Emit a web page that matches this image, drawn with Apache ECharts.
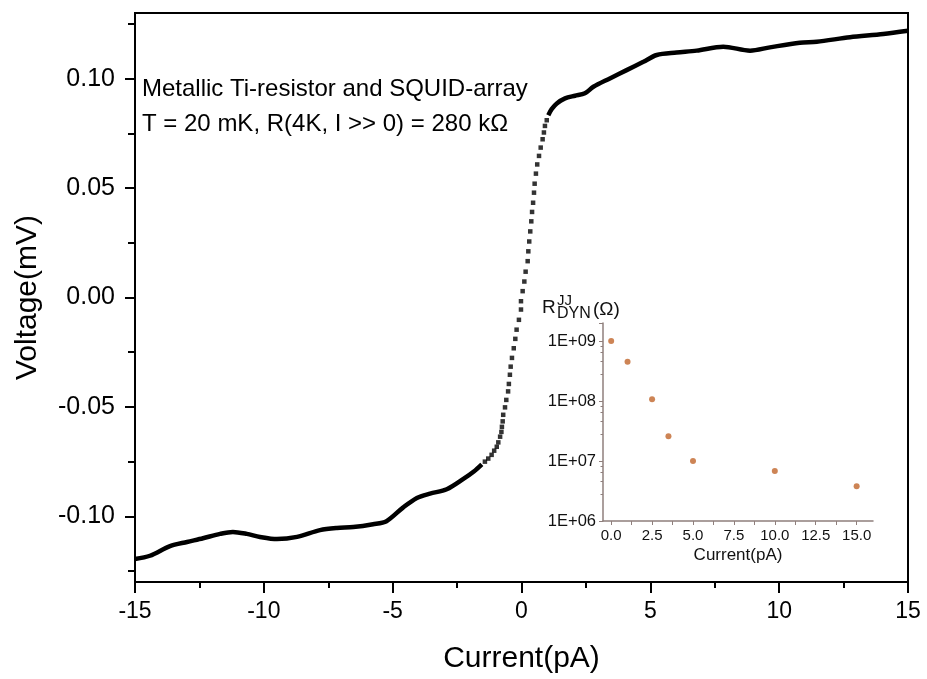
<!DOCTYPE html>
<html>
<head>
<meta charset="utf-8">
<script src="https://cdn.jsdelivr.net/npm/echarts@6/dist/echarts.min.js"></script>
<style>
html,body{margin:0;padding:0;background:#fff;}
#chart{width:927px;height:679px;}
</style>
</head>
<body>
<div id="chart"></div>
<script>
// ---- Main I-V curve (current in pA, voltage in mV) ----
const leftCurrent = [-15, -14.42, -13.64, -12.98, -12.36, -11.7, -11.2, -10.66, -10.15, -9.49, -8.71, -7.82, -7.16, -6.53, -5.76, -5.24, -4.6, -4.06, -3.55, -2.9, -2.27, -1.85, -1.54];
const leftVoltage = [-0.1195, -0.118, -0.1136, -0.1117, -0.110, -0.108, -0.1071, -0.108, -0.1094, -0.1104, -0.1094, -0.1063, -0.1053, -0.1049, -0.1036, -0.1022, -0.0960, -0.0916, -0.0896, -0.0876, -0.0830, -0.0795, -0.0762];

const steepCurrent = [-1.42, -1.29, -1.16, -1.06, -0.96, -0.90, -0.83, -0.78, -0.76, -0.73, -0.71, -0.64, -0.59, -0.52, -0.49, -0.45, -0.42, -0.37, -0.30, -0.24, -0.19, -0.10, -0.02, -0.02, 0.045, 0.11, 0.16, 0.24, 0.265, 0.30, 0.34, 0.38, 0.41, 0.45, 0.485, 0.51, 0.56, 0.61, 0.68, 0.745, 0.82, 0.87, 0.91, 0.98];
const steepVoltage = [-0.0750, -0.0736, -0.0719, -0.0700, -0.0682, -0.0662, -0.0636, -0.0614, -0.0591, -0.0566, -0.0536, -0.0502, -0.0468, -0.0429, -0.0395, -0.0353, -0.0316, -0.0276, -0.0232, -0.0189, -0.0147, -0.0102, -0.0055, -0.0017, 0.0029, 0.0073, 0.0118, 0.0166, 0.0211, 0.0256, 0.0302, 0.0348, 0.0391, 0.0433, 0.0479, 0.0520, 0.0566, 0.0608, 0.0647, 0.0685, 0.0723, 0.0754, 0.0784, 0.0810];

const rightCurrent = [1.04, 1.17, 1.37, 1.69, 2.08, 2.46, 2.79, 3.43, 4.08, 4.73, 5.25, 6.02, 6.8, 7.83, 8.87, 9.64, 10.8, 11.46, 12.75, 14.04, 15];
const rightVoltage = [0.0833, 0.0861, 0.0887, 0.0910, 0.0922, 0.0933, 0.0963, 0.1001, 0.1039, 0.1077, 0.1108, 0.1119, 0.1128, 0.1146, 0.1128, 0.1143, 0.1164, 0.1169, 0.1189, 0.1204, 0.1219];

// ---- Inset: dynamic resistance of the junctions ----
const insetCurrent = [0, 1, 2.5, 3.5, 5, 10, 15];
const insetResistance = [1.0e9, 4.5e8, 1.07e8, 2.6e7, 1.0e7, 6.8e6, 3.8e6];

// ---- Tick labels ----
const mainYTicks = [-0.10, -0.05, 0.00, 0.05, 0.10];
const mainYMinorTicks = [-0.125, -0.075, -0.025, 0.025, 0.075, 0.125];
const insetXTicks = [0, 2.5, 5, 7.5, 10, 12.5, 15];
const insetXMinorTicks = [0, 1.25, 2.5, 3.75, 5, 6.25, 7.5, 8.75, 10, 11.25, 12.5, 13.75, 15];

const zip = (a, b) => a.map((v, i) => [v, b[i]]);
const FONT = 'Arial, "Liberation Sans", sans-serif';
const insetAxisColor = '#8f7f7c';

const chart = echarts.init(document.getElementById('chart'), null, {renderer: 'canvas'});
chart.setOption({
  backgroundColor: '#ffffff',
  animation: false,
  grid: [
    {left: 135, top: 13, right: 19, bottom: 97, show: true, borderColor: '#000', borderWidth: 2,
     backgroundColor: 'transparent', outerBoundsMode: 'none', containLabel: false},
    {left: 603, top: 323, right: 54, bottom: 158, show: false, outerBoundsMode: 'none', containLabel: false}
  ],
  xAxis: [
    {
      type: 'value', gridIndex: 0, min: -15, max: 15, interval: 5,
      name: 'Current(pA)', nameLocation: 'middle', nameGap: 62,
      nameTextStyle: {fontFamily: FONT, fontSize: 30, color: '#000'},
      axisLine: {show: true, onZero: false, lineStyle: {color: '#000', width: 2}},
      axisTick: {show: true, inside: false, length: 11, lineStyle: {color: '#000', width: 2}},
      minorTick: {show: true, splitNumber: 2, length: 6, lineStyle: {color: '#000', width: 2}},
      axisLabel: {fontFamily: FONT, fontSize: 23, color: '#000', margin: 18},
      splitLine: {show: false}
    },
    {
      type: 'value', gridIndex: 1, min: -0.5, max: 16,
      name: 'Current(pA)', nameLocation: 'middle', nameGap: 26,
      nameTextStyle: {fontFamily: FONT, fontSize: 17, color: '#111'},
      axisLine: {show: true, onZero: false, lineStyle: {color: insetAxisColor, width: 1.5}},
      axisTick: {show: true, length: 4, customValues: insetXMinorTicks, lineStyle: {color: insetAxisColor, width: 1}},
      axisLabel: {fontFamily: FONT, fontSize: 15, color: '#111', margin: 7, customValues: insetXTicks,
        formatter: v => v.toFixed(1)},
      splitLine: {show: false}
    }
  ],
  yAxis: [
    {
      type: 'value', gridIndex: 0, min: -0.13, max: 0.13,
      name: 'Voltage(mV)', nameLocation: 'middle', nameGap: 92,
      nameTextStyle: {fontFamily: FONT, fontSize: 30, color: '#000'},
      axisLine: {show: true, onZero: false, lineStyle: {color: '#000', width: 2}},
      axisTick: {show: true, length: 10, customValues: mainYTicks, lineStyle: {color: '#000', width: 2}},
      axisLabel: {fontFamily: FONT, fontSize: 25, color: '#000', margin: 20, customValues: mainYTicks,
        formatter: v => v.toFixed(2)},
      splitLine: {show: false}
    },
    {
      type: 'value', gridIndex: 0, min: -0.13, max: 0.13, position: 'left',
      axisLine: {show: false, onZero: false},
      axisTick: {show: true, length: 7, customValues: mainYMinorTicks, lineStyle: {color: '#000', width: 2}},
      axisLabel: {show: false},
      splitLine: {show: false}
    },
    {
      type: 'log', gridIndex: 1, min: 1e6, max: 2e9, logBase: 10,
      axisLine: {show: true, onZero: false, lineStyle: {color: insetAxisColor, width: 1.5}},
      axisTick: {show: true, length: 4, lineStyle: {color: insetAxisColor, width: 1}},
      minorTick: {show: true, splitNumber: 5, length: 2.5, lineStyle: {color: insetAxisColor, width: 1}},
      axisLabel: {fontFamily: FONT, fontSize: 16.5, color: '#111', margin: 7, showMaxLabel: false,
        formatter: v => '1E+' + String(Math.round(Math.log10(v))).padStart(2, '0')},
      splitLine: {show: false}
    }
  ],
  series: [
    {
      type: 'line', xAxisIndex: 0, yAxisIndex: 0, data: zip(leftCurrent, leftVoltage),
      showSymbol: false, smooth: 0.3, lineStyle: {color: '#000', width: 4.5}, z: 3
    },
    {
      type: 'scatter', xAxisIndex: 0, yAxisIndex: 0, data: zip(steepCurrent, steepVoltage),
      symbol: 'rect', symbolSize: 4.5, itemStyle: {color: '#000'}, z: 3
    },
    {
      type: 'line', xAxisIndex: 0, yAxisIndex: 0, data: zip(rightCurrent, rightVoltage),
      showSymbol: false, smooth: 0.3, lineStyle: {color: '#000', width: 4.5}, z: 3
    },
    {
      type: 'scatter', xAxisIndex: 1, yAxisIndex: 2, data: zip(insetCurrent, insetResistance),
      symbol: 'circle', symbolSize: 6, itemStyle: {color: '#c0652b'}, z: 4
    }
  ],
  graphic: [
    {type: 'text', left: 142, top: 77, style: {text: 'Metallic Ti-resistor and SQUID-array', font: '24px ' + FONT, fill: '#000'}},
    {type: 'text', left: 142, top: 112, style: {text: 'T = 20 mK, R(4K, I >> 0) = 280 k\u03A9', font: '24px ' + FONT, fill: '#000'}},
    {type: 'text', x: 542, y: 308, style: {text: 'R', font: '19px ' + FONT, fill: '#111', verticalAlign: 'middle'}},
    {type: 'text', x: 557, y: 301, style: {text: 'JJ', font: '15px ' + FONT, fill: '#111', verticalAlign: 'middle'}},
    {type: 'text', x: 557, y: 314, style: {text: 'DYN', font: '16px ' + FONT, fill: '#111', verticalAlign: 'middle'}},
    {type: 'text', x: 593, y: 310, style: {text: '(\u03A9)', font: '19px ' + FONT, fill: '#111', verticalAlign: 'middle'}}
  ]
});
</script>
</body>
</html>
